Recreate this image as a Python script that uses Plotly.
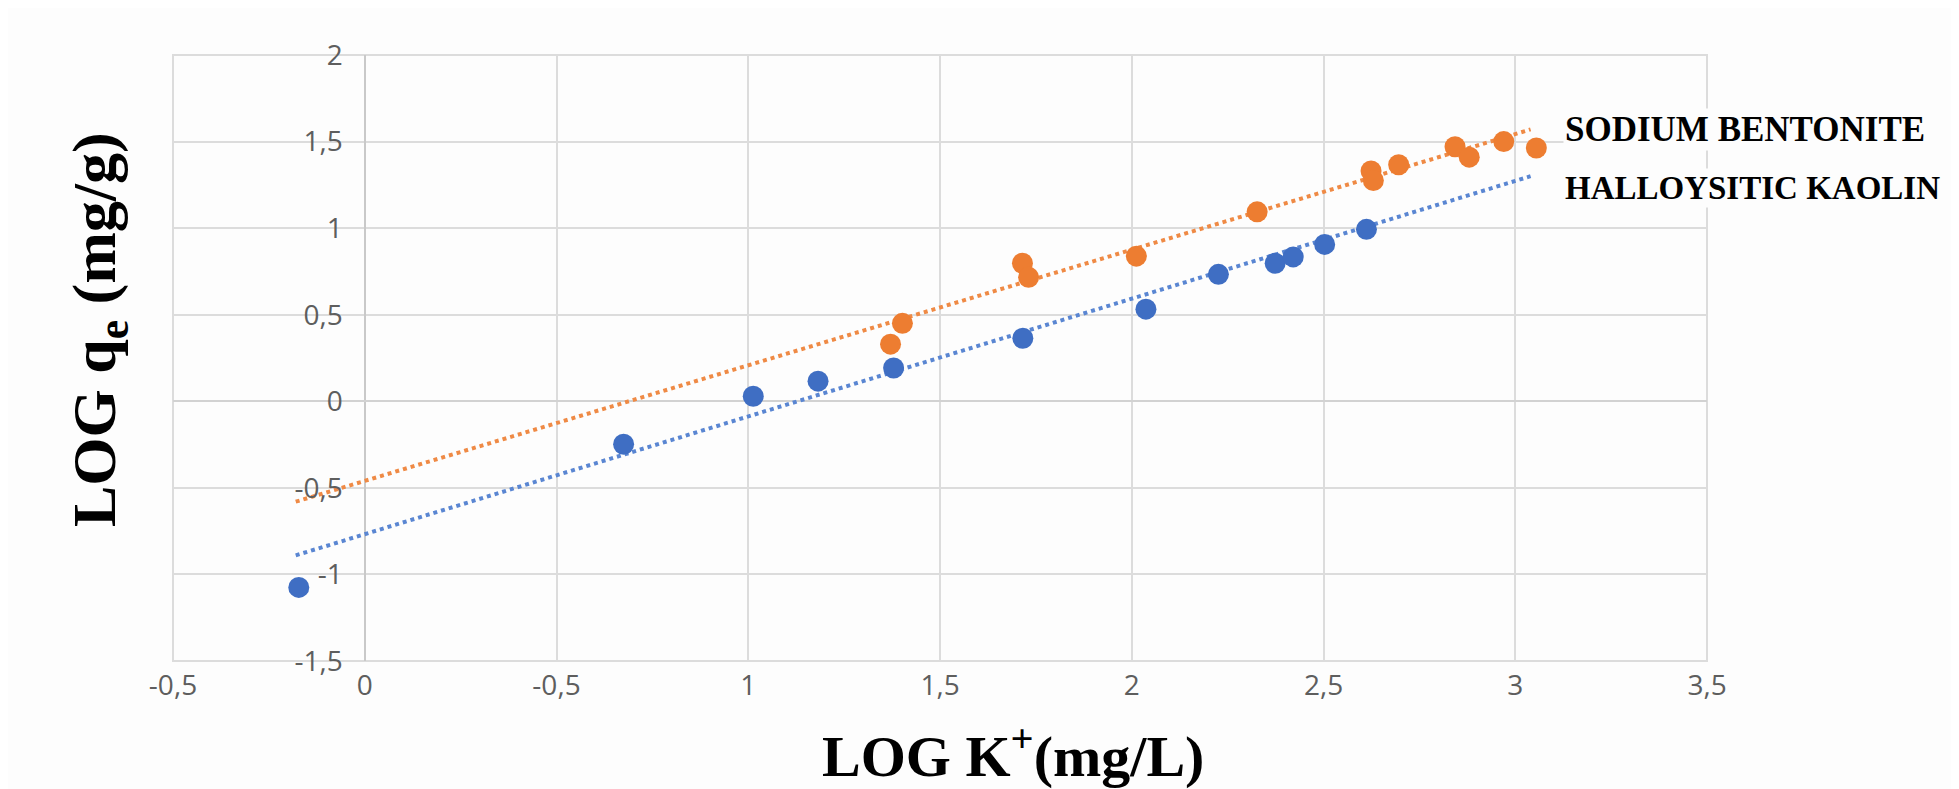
import plotly.graph_objects as go

# ---- data ----
kaolin_x = [-0.172, 0.675, 1.013, 1.182, 1.379, 1.716, 2.037, 2.226, 2.374, 2.421, 2.503, 2.612]
kaolin_y = [-1.075, -0.248, 0.029, 0.116, 0.192, 0.364, 0.532, 0.733, 0.797, 0.834, 0.906, 0.993]

bentonite_x = [1.371, 1.402, 1.715, 1.731, 2.012, 2.327, 2.624, 2.630, 2.696, 2.843, 2.880, 2.970, 3.055]
bentonite_y = [0.330, 0.450, 0.797, 0.716, 0.838, 1.094, 1.330, 1.275, 1.366, 1.470, 1.410, 1.500, 1.463]

# linear trend lines (end points)
bentonite_trend_x = [-0.18, 3.04]
bentonite_trend_y = [-0.58, 1.57]
kaolin_trend_x = [-0.18, 3.04]
kaolin_trend_y = [-0.89, 1.30]

x_tickvals = [-0.5, 0, 0.5, 1, 1.5, 2, 2.5, 3, 3.5]
x_ticktext = ["-0,5", "0", "-0,5", "1", "1,5", "2", "2,5", "3", "3,5"]
y_tickvals = [-1.5, -1, -0.5, 0, 0.5, 1, 1.5, 2]
y_ticktext = ["-1,5", "-1", "-0,5", "0", "0,5", "1", "1,5", "2"]

series_names = ["SODIUM BENTONITE", "HALLOYSITIC KAOLIN"]

# ---- styling ----
W, H = 1959, 789
ML, MR, MT, MB = 165, 260, 47, 136
PW, PH = W - ML - MR, H - MT - MB

def px_x(p):
    return (p - ML) / PW

def px_y(p):
    return (H - MB - p) / PH

ORANGE = "#ED7D31"
BLUE = "#3F6EC3"
GRID = "#dcdcdc"
SERIF = "Liberation Serif, Times New Roman, serif"
TICKFONT = dict(family="Open Sans, Lato, sans-serif", size=28, color="#5e5e5e")

fig = go.Figure()

fig.add_trace(go.Scatter(x=bentonite_trend_x, y=bentonite_trend_y, mode="lines",
                         line=dict(color="#EF8A45", width=4, dash="dot"),
                         showlegend=False, hoverinfo="skip"))
fig.add_trace(go.Scatter(x=kaolin_trend_x, y=kaolin_trend_y, mode="lines",
                         line=dict(color="#5A86D2", width=4, dash="dot"),
                         showlegend=False, hoverinfo="skip"))
fig.add_trace(go.Scatter(x=bentonite_x, y=bentonite_y, mode="markers", name=series_names[0],
                         marker=dict(color=ORANGE, size=21), showlegend=False))
fig.add_trace(go.Scatter(x=kaolin_x, y=kaolin_y, mode="markers", name=series_names[1],
                         marker=dict(color=BLUE, size=21), showlegend=False))

fig.update_layout(
    width=W, height=H,
    margin=dict(l=ML, r=MR, t=MT, b=MB),
    paper_bgcolor="#fdfdfd",
    plot_bgcolor="#fdfdfd",
    xaxis=dict(range=[-0.5, 3.5], domain=[0, 1], tickmode="array",
               tickvals=x_tickvals, ticktext=x_ticktext, tickfont=TICKFONT,
               showgrid=True, gridcolor=GRID, gridwidth=2,
               zeroline=True, zerolinecolor="#c9c9c9", zerolinewidth=2,
               showline=False, ticks="", ticklabelstandoff=5),
    yaxis=dict(range=[-1.5, 2], anchor="free", position=0.125, tickmode="array",
               tickvals=y_tickvals, ticktext=y_ticktext, tickfont=TICKFONT,
               showgrid=True, gridcolor=GRID, gridwidth=2,
               zeroline=True, zerolinecolor="#d2d2d2", zerolinewidth=2,
               showline=False, ticks="", ticklabelstandoff=22),
    showlegend=False,
)

# plot frame
fig.add_shape(type="rect", xref="paper", yref="paper", x0=0, x1=1, y0=0, y1=1,
              line=dict(color=GRID, width=2), layer="below")

# axis titles
fig.add_annotation(text="<b>LOG q<sub>e</sub> (mg/g)</b>", xref="paper", yref="paper",
                   x=px_x(90), y=px_y(322), xanchor="center", yanchor="middle",
                   textangle=-90, showarrow=False,
                   font=dict(family=SERIF, size=62, color="black"))
fig.add_annotation(text="<b>LOG K<sup>+</sup>(mg/L)</b>", xref="paper", yref="paper",
                   x=px_x(1005), y=px_y(744), xanchor="center", yanchor="middle",
                   showarrow=False,
                   font=dict(family=SERIF, size=58, color="black"))

# series labels
fig.add_annotation(text="<b>" + series_names[0] + "</b>", xref="paper", yref="paper",
                   x=px_x(1555), y=px_y(121), xanchor="left", yanchor="middle",
                   showarrow=False, bgcolor="#fdfdfd",
                   font=dict(family=SERIF, size=35, color="black"))
fig.add_annotation(text="<b>" + series_names[1] + "</b>", xref="paper", yref="paper",
                   x=px_x(1555), y=px_y(180), xanchor="left", yanchor="middle",
                   showarrow=False, bgcolor="#fdfdfd",
                   font=dict(family=SERIF, size=33, color="black"))

fig.write_html("out.html")
